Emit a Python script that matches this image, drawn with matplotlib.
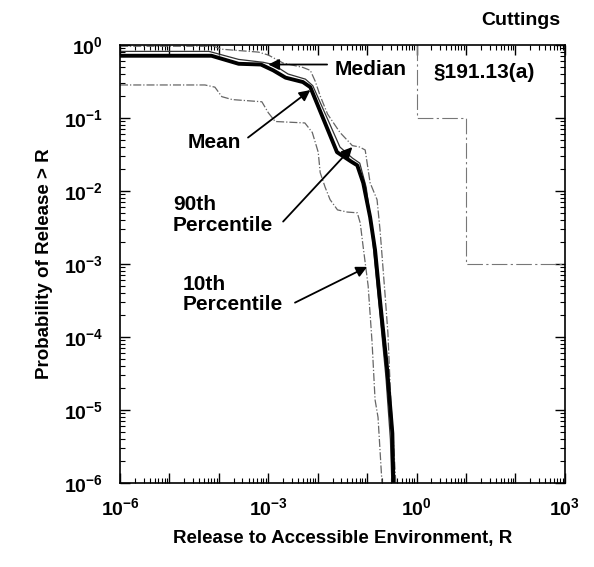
import matplotlib
matplotlib.use("Agg")
import matplotlib.pyplot as plt
import numpy as np
from matplotlib.ticker import LogLocator, FixedLocator, FuncFormatter, NullFormatter

plt.rcParams['font.family'] = ['Liberation Sans', 'DejaVu Sans']
plt.rcParams['font.weight'] = 'bold'
plt.rcParams['mathtext.fontset'] = 'custom'
plt.rcParams['mathtext.rm'] = 'Liberation Sans:bold'
plt.rcParams['mathtext.bf'] = 'Liberation Sans:bold'
plt.rcParams['mathtext.it'] = 'Liberation Sans:bold'

# curves, as log10(R) and log10(P)
mean_log_r = [-6, -4.15, -3.6, -3.15, -2.9, -2.65, -2.3, -2.15, -1.61, -1.32, -1.2,
              -1.08, -0.94, -0.84, -0.74, -0.6, -0.49, -0.47]
mean_log_p = [-0.15, -0.15, -0.26, -0.27, -0.35, -0.45, -0.51, -0.58, -1.47, -1.6, -1.65,
              -1.89, -2.36, -2.81, -3.5, -4.41, -5.32, -6]

median_log_r = [-6, -4.2, -3.6, -3.1, -2.9, -2.6, -2.25, -2.1, -1.55, -1.3, -1.15,
                -1.02, -0.92, -0.85, -0.74, -0.62, -0.53, -0.5]
median_log_p = [-0.09, -0.09, -0.2, -0.24, -0.27, -0.4, -0.47, -0.56, -1.4, -1.55, -1.62,
                -1.95, -2.45, -2.95, -3.7, -4.55, -5.4, -6]

p90_log_r = [-6, -4.1, -3.95, -3.2, -3.0, -2.7, -2.3, -2.15, -2.05, -1.95, -1.8, -1.55,
             -1.3, -1.15, -1.04, -0.94, -0.8, -0.74, -0.64, -0.58, -0.52, -0.48, -0.42]
p90_log_p = [-0.02, -0.02, -0.06, -0.1, -0.14, -0.25, -0.31, -0.35, -0.5, -0.7, -0.95, -1.2,
             -1.38, -1.4, -1.44, -1.89, -2.12, -2.53, -3.4, -3.95, -4.9, -5.3, -6]

p10_log_r = [-6, -4.28, -4.08, -3.94, -3.73, -3.13, -3.0, -2.86, -2.26, -2.11, -1.99,
             -1.95, -1.85, -1.75, -1.6, -1.4, -1.2, -1.14, -1.08, -0.98, -0.9, -0.84,
             -0.78, -0.74, -0.7]
p10_log_p = [-0.55, -0.55, -0.58, -0.71, -0.75, -0.78, -0.93, -1.05, -1.07, -1.2, -1.47,
             -1.75, -1.95, -2.12, -2.26, -2.29, -2.3, -2.44, -2.77, -3.3, -4.08, -4.86,
             -5.1, -5.55, -6]

# EPA 40 CFR 191.13(a) release limit
limit_r = [1, 1, 10, 10, 1000]
limit_p = [1, 0.1, 0.1, 0.001, 0.001]

x_decades = list(range(-6, 4))
y_decades = list(range(-6, 1))

fig = plt.figure(figsize=(5.94, 5.67), dpi=100)
ax = fig.add_axes([0.202, 0.148, 0.749, 0.773])

ax.plot(10 ** np.array(p10_log_r), 10 ** np.array(p10_log_p), color='#666666', lw=0.9, ls='-.')
ax.plot(10 ** np.array(p90_log_r), 10 ** np.array(p90_log_p), color='#666666', lw=0.9, ls='-.')
ax.plot(10 ** np.array(median_log_r), 10 ** np.array(median_log_p), color='#333333', lw=0.9)
ax.plot(10 ** np.array(mean_log_r), 10 ** np.array(mean_log_p), color='black', lw=2.8)
ax.plot(limit_r, limit_p, color='#777777', lw=0.8, ls=(0, (14, 3, 2, 3)))

ax.set_xscale('log')
ax.set_yscale('log')
ax.set_xlim(1e-6, 1e3)
ax.set_ylim(1e-6, 1)

ax.xaxis.set_major_locator(FixedLocator([10.0 ** e for e in x_decades]))
ax.yaxis.set_major_locator(FixedLocator([10.0 ** e for e in y_decades]))
ax.xaxis.set_minor_locator(LogLocator(base=10, subs=np.arange(2, 10), numticks=20))
ax.yaxis.set_minor_locator(LogLocator(base=10, subs=np.arange(2, 10), numticks=20))


def xfmt(v, pos):
    e = int(round(np.log10(v)))
    if e % 3 != 0:
        return ''
    return r'$10^{%d}$' % e


def yfmt(v, pos):
    e = int(round(np.log10(v)))
    return r'$10^{%d}$' % e


ax.xaxis.set_major_formatter(FuncFormatter(xfmt))
ax.yaxis.set_major_formatter(FuncFormatter(yfmt))
ax.xaxis.set_minor_formatter(NullFormatter())
ax.yaxis.set_minor_formatter(NullFormatter())
ax.tick_params(which='both', direction='in', top=True, right=True, labelsize=14)
ax.tick_params(which='major', length=7, width=1)
ax.tick_params(which='minor', length=3.5, width=0.8)
ax.tick_params(axis='y', pad=12)
ax.tick_params(axis='x', pad=10)
for s in ax.spines.values():
    s.set_linewidth(1.2)

ax.set_xlabel('Release to Accessible Environment, R', fontsize=13.5, fontweight='bold', labelpad=8)
ax.set_ylabel('Probability of Release > R', fontsize=13.5, fontweight='bold', labelpad=8)

fs = 15
ax.text(10 ** -1.65, 10 ** -0.34, 'Median', fontsize=fs, fontweight='bold', va='center', ha='left')
ax.text(10 ** 0.34, 10 ** -0.38, '§191.13(a)', fontsize=fs, fontweight='bold', va='center', ha='left')
ax.text(10 ** -4.64, 10 ** -1.34, 'Mean', fontsize=fs, fontweight='bold', va='center', ha='left')
ax.text(10 ** -4.93, 10 ** -2.33, '90th\nPercentile', fontsize=fs, fontweight='bold',
        va='center', ha='left', linespacing=1.1)
ax.text(10 ** -4.74, 10 ** -3.42, '10th\nPercentile', fontsize=fs, fontweight='bold',
        va='center', ha='left', linespacing=1.1)

arrow = dict(arrowstyle='-|>', lw=1.3, color='black', mutation_scale=16, shrinkA=0, shrinkB=0)
ax.annotate('', xy=(10 ** -3.0, 10 ** -0.27), xytext=(10 ** -1.81, 10 ** -0.27), arrowprops=arrow)
ax.annotate('', xy=(10 ** -2.15, 10 ** -0.62), xytext=(10 ** -3.41, 10 ** -1.27), arrowprops=arrow)
ax.annotate('', xy=(10 ** -1.30, 10 ** -1.40), xytext=(10 ** -2.70, 10 ** -2.42), arrowprops=arrow)
ax.annotate('', xy=(10 ** -1.0, 10 ** -3.04), xytext=(10 ** -2.46, 10 ** -3.53), arrowprops=arrow)

fig.text(0.943, 0.963, 'Cuttings', fontsize=14, fontweight='bold', ha='right', va='center')

fig.savefig('out.png', dpi=100)
